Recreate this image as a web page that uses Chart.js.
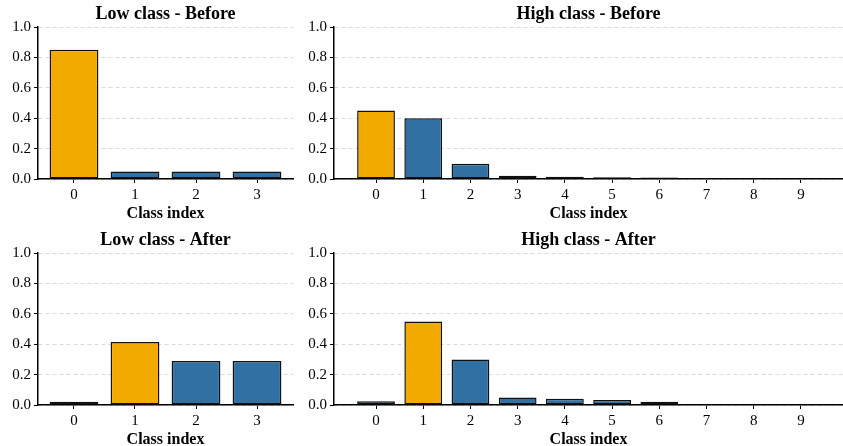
<!DOCTYPE html>
<html>
<head>
<meta charset="utf-8">
<script src="https://cdn.jsdelivr.net/npm/chart.js@4/dist/chart.umd.min.js"></script>
<style>
  body { margin: 0; background: #fff; }
  #wrap { position: relative; width: 843px; height: 446px; }
  .box { position: absolute; }
</style>
</head>
<body>
<div id="wrap">
  <div class="box" style="left:0;top:0;width:300px;height:223px"><canvas id="c1"></canvas></div>
  <div class="box" style="left:300px;top:0;width:543px;height:223px"><canvas id="c2"></canvas></div>
  <div class="box" style="left:0;top:226px;width:300px;height:223px"><canvas id="c3"></canvas></div>
  <div class="box" style="left:300px;top:226px;width:543px;height:223px"><canvas id="c4"></canvas></div>
</div>
<script>
// class labels
const lowClasses = ['0', '1', '2', '3'];
const highClasses = ['0', '1', '2', '3', '4', '5', '6', '7', '8', '9'];

// probabilities per class
const lowBefore = [0.85, 0.05, 0.05, 0.05];
const highBefore = [0.45, 0.40, 0.10, 0.022, 0.015, 0.012, 0.010, 0.006, 0.004, 0.003];
const lowAfter = [0.022, 0.415, 0.29, 0.29];
const highAfter = [0.024, 0.55, 0.30, 0.05, 0.041, 0.033, 0.022, 0.005, 0.004, 0.003];

// y ticks
const yTicks = [0, 0.2, 0.4, 0.6, 0.8, 1.0];

const ORANGE = '#F2AA00';
const BLUE = '#3070A3';
const FONT = '"Liberation Serif", "DejaVu Serif", serif';

// title centred on the plot area, like matplotlib
const plotTitle = {
  id: 'plotTitle',
  afterDraw(chart, args, opts) {
    const { ctx, chartArea } = chart;
    ctx.save();
    ctx.font = 'bold 18px ' + FONT;
    ctx.fillStyle = '#000';
    ctx.textAlign = 'center';
    ctx.textBaseline = 'middle';
    ctx.fillText(opts.text, (chartArea.left + chartArea.right) / 2, 14);
    ctx.restore();
  }
};

function makeChart(id, cats, values, hi, title, yWidth, padRight) {
  const n = cats.length;
  const margin = 0.05 * (n - 0.2);
  new Chart(document.getElementById(id), {
    type: 'bar',
    data: {
      datasets: [{
        data: values.map((v, i) => ({ x: i, y: v })),
        backgroundColor: values.map((v, i) => i === hi ? ORANGE : BLUE),
        borderColor: '#111',
        borderWidth: 1.5,
        borderSkipped: false,
        barPercentage: 0.8,
        categoryPercentage: 1
      }]
    },
    options: {
      responsive: true,
      maintainAspectRatio: false,
      animation: false,
      layout: { padding: { top: 27, right: padRight, left: 0, bottom: 0 } },
      plugins: {
        legend: { display: false },
        tooltip: { enabled: false },
        plotTitle: { text: title }
      },
      scales: {
        x: {
          type: 'linear',
          offset: false,
          min: -0.4 - margin,
          max: n - 0.6 + margin,
          afterBuildTicks: s => { s.ticks = cats.map((c, i) => ({ value: i })); },
          afterFit: s => { s.height = 44; },
          ticks: {
            callback: v => cats[v],
            color: '#000',
            font: { family: FONT, size: 15 },
            padding: 3,
            maxRotation: 0
          },
          grid: { offset: false, drawOnChartArea: false, tickColor: '#000', tickLength: 4, tickWidth: 1 },
          border: { color: '#000', width: 1.5 },
          title: {
            display: true,
            text: 'Class index',
            color: '#000',
            font: { family: FONT, size: 16, weight: 'bold' },
            padding: { top: 0, bottom: 0 }
          }
        },
        y: {
          min: 0,
          max: 1,
          afterBuildTicks: s => { s.ticks = yTicks.map(v => ({ value: v })); },
          afterFit: s => { s.width = yWidth; },
          ticks: {
            callback: v => v.toFixed(1),
            color: '#000',
            font: { family: FONT, size: 15 },
            padding: 3
          },
          grid: {
            color: '#d0d0d0',
            lineWidth: 0.8,
            tickColor: '#000',
            tickLength: 4,
            tickWidth: 1,
            tickBorderDash: []
          },
          border: { color: '#000', width: 1.5, dash: [4, 3] }
        }
      }
    },
    plugins: [plotTitle]
  });
}

makeChart('c1', lowClasses, lowBefore, 0, 'Low class - Before', 38, 7);
makeChart('c2', highClasses, highBefore, 0, 'High class - Before', 34, 0);
makeChart('c3', lowClasses, lowAfter, 1, 'Low class - After', 38, 7);
makeChart('c4', highClasses, highAfter, 1, 'High class - After', 34, 0);
</script>
</body>
</html>
